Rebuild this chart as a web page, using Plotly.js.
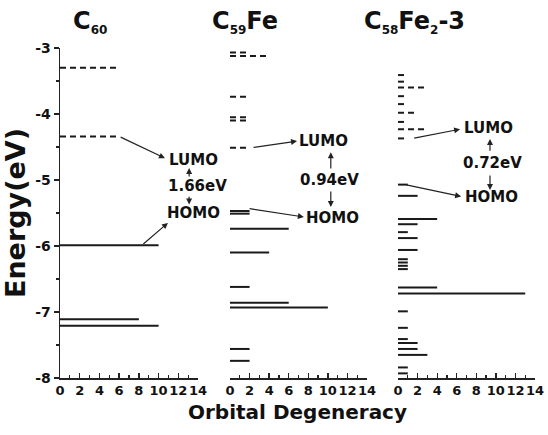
<!DOCTYPE html>
<html><head><meta charset="utf-8">
<script src="https://cdn.plot.ly/plotly-3.0.1.min.js"></script>
<style>body{margin:0;background:#fff}#chart{width:548px;height:435px}</style>
</head><body><div id="chart"></div>
<script>
// ---- data: energy (eV), degeneracy, occupied(1)/unoccupied(0) ----
const c60Energy = [-3.30, -4.34, -5.99, -7.11, -7.21];
const c60Degen  = [6, 6, 10, 8, 10];
const c60Occ    = [0, 0, 1, 1, 1];

const c59FeEnergy = [-3.07, -3.12, -3.74, -4.05, -4.10, -4.51, -5.47, -5.51, -5.74, -6.10, -6.62, -6.86, -6.93, -7.56, -7.74];
const c59FeDegen  = [2, 4, 2, 2, 2, 2, 2, 2, 6, 4, 2, 6, 10, 2, 2];
const c59FeOcc    = [0, 0, 0, 0, 0, 0, 1, 1, 1, 1, 1, 1, 1, 1, 1];

const c58Fe2Energy = [-3.41, -3.51, -3.60, -3.73, -3.85, -3.98, -4.12, -4.23, -4.37,
  -5.07, -5.24, -5.59, -5.67, -5.79, -5.88, -6.06, -6.20, -6.25, -6.30, -6.35,
  -6.63, -6.72, -6.99, -7.24, -7.41, -7.47, -7.56, -7.65, -7.84, -7.93];
const c58Fe2Degen = [1, 1, 3, 1, 1, 2, 1, 3, 1,
  1, 2, 4, 2, 1, 2, 2, 1, 1, 1, 1,
  4, 13, 1, 1, 1, 2, 2, 3, 1, 1];
const c58Fe2Occ = [0,0,0,0,0,0,0,0,0, 1,1,1,1,1,1,1,1,1,1,1, 1,1,1,1,1,1,1,1,1,1];

const panelTitles = ['C<sub><span style="font-size:12px">60</span></sub>',
                     'C<sub><span style="font-size:12px">59</span></sub>Fe',
                     'C<sub><span style="font-size:12px">58</span></sub>Fe<sub><span style="font-size:12px">2</span></sub>-3'];
const gapLabels = ['1.66eV', '0.94eV', '0.72eV'];
const xTickVals = [0, 2, 4, 6, 8, 10, 12, 14];
const yTickVals = [-8, -7, -6, -5, -4, -3];
const yTickText = ['-8', '-7', '-6', '-5', '-4', '-3'];

const FONT = 'DejaVu Sans';
const LINEC = '#1a1a1a';

function segs(E, D, occ, flag) {
  const x = [], y = [];
  for (let i = 0; i < E.length; i++) {
    if (occ[i] !== flag) continue;
    x.push(0, D[i], null);
    y.push(E[i], E[i], null);
  }
  return {x, y};
}

const panels = [
  {E: c60Energy, D: c60Degen, O: c60Occ, xa: 'x'},
  {E: c59FeEnergy, D: c59FeDegen, O: c59FeOcc, xa: 'x2'},
  {E: c58Fe2Energy, D: c58Fe2Degen, O: c58Fe2Occ, xa: 'x3'}
];

const traces = [];
panels.forEach(p => {
  const occ = segs(p.E, p.D, p.O, 1);
  const un = segs(p.E, p.D, p.O, 0);
  traces.push({type: 'scatter', mode: 'lines', x: occ.x, y: occ.y, xaxis: p.xa, yaxis: 'y',
    line: {color: LINEC, width: 2}, hoverinfo: 'skip', showlegend: false, cliponaxis: false});
  traces.push({type: 'scatter', mode: 'lines', x: un.x, y: un.y, xaxis: p.xa, yaxis: 'y',
    line: {color: LINEC, width: 2, dash: '6px,4px'}, hoverinfo: 'skip', showlegend: false, cliponaxis: false});
});

function xaxisDef(domain) {
  return {domain: domain, range: [0, 14], anchor: 'y', showline: true, linecolor: '#222', linewidth: 1.5,
    ticks: 'inside', ticklen: 5, tickwidth: 1.3, tickcolor: '#222', tickvals: xTickVals, tickangle: 0,
    minor: {dtick: 1, ticks: 'inside', ticklen: 3, tickwidth: 1.2, tickcolor: '#222'},
    showgrid: false, zeroline: false, fixedrange: true,
    tickfont: {family: FONT, size: 13, color: '#111', weight: 'bold'}};
}

const lbl = (xref, x, y, text, size) => ({xref: xref, yref: 'y', x: x, y: y, text: text, showarrow: false,
  xanchor: 'center', yanchor: 'middle', font: {family: FONT, size: size || 15, color: '#111', weight: 'bold'}});
const arr = (xref, x, y, ax, ay) => ({xref: xref, yref: 'y', axref: xref, ayref: 'y', x: x, y: y, ax: ax, ay: ay,
  text: '', showarrow: true, arrowhead: 2, arrowsize: 1, arrowwidth: 1.2, arrowcolor: '#222', standoff: 0, startstandoff: 0});

const annotations = [
  // panel titles
  {xref: 'paper', yref: 'paper', x: 0.064, y: 1.08, text: panelTitles[0], showarrow: false, xanchor: 'center', yanchor: 'middle', font: {family: FONT, size: 24, color: '#111', weight: 'bold'}},
  {xref: 'paper', yref: 'paper', x: 0.389, y: 1.08, text: panelTitles[1], showarrow: false, xanchor: 'center', yanchor: 'middle', font: {family: FONT, size: 24, color: '#111', weight: 'bold'}},
  {xref: 'paper', yref: 'paper', x: 0.747, y: 1.08, text: panelTitles[2], showarrow: false, xanchor: 'center', yanchor: 'middle', font: {family: FONT, size: 24, color: '#111', weight: 'bold'}},
  // panel 1
  lbl('x', 13.5, -4.70, 'LUMO'), lbl('x', 13.9, -5.09, gapLabels[0]), lbl('x', 13.5, -5.50, 'HOMO'),
  arr('x', 10.65, -4.67, c60Degen[1], c60Energy[1]),
  arr('x', 13.1, -4.82, 13.1, -4.97), arr('x', 13.1, -5.37, 13.1, -5.23),
  arr('x', 10.95, -5.65, 8.3, c60Energy[2]),
  // panel 2
  lbl('x2', 9.6, -4.41, 'LUMO'), lbl('x2', 10.2, -5.00, gapLabels[1]), lbl('x2', 10.5, -5.58, 'HOMO'),
  arr('x2', 6.85, -4.41, 2.25, c59FeEnergy[5]),
  arr('x2', 10.3, -4.58, 10.3, -4.85), arr('x2', 10.3, -5.41, 10.3, -5.15),
  arr('x2', 7.55, -5.56, 1.85, -5.43),
  // panel 3
  lbl('x3', -1.85, c58Fe2Energy[8], '88', 12), lbl('x3', -1.3, c58Fe2Energy[9], '38', 12),
  lbl('x3', 9.2, -4.21, 'LUMO'), lbl('x3', 9.7, -4.74, gapLabels[2]), lbl('x3', 9.6, -5.26, 'HOMO'),
  arr('x3', 6.35, -4.23, 1.5, c58Fe2Energy[8]),
  arr('x3', 9.4, -4.38, 9.4, -4.58), arr('x3', 9.4, -5.15, 9.4, -4.91),
  arr('x3', 6.45, -5.25, 0.7, c58Fe2Energy[9]),
  // x axis title
  {xref: 'paper', yref: 'paper', x: 0.5, y: -0.103, text: 'Orbital Degeneracy', showarrow: false, xanchor: 'center', yanchor: 'middle', font: {family: FONT, size: 20, color: '#111', weight: 'bold'}}
];

const layout = {
  width: 548, height: 435,
  margin: {l: 60, r: 13, t: 48, b: 57},
  paper_bgcolor: '#fff', plot_bgcolor: '#fff',
  font: {family: FONT, color: '#111'},
  xaxis: xaxisDef([0, 0.2905]),
  xaxis2: xaxisDef([0.3579, 0.6463]),
  xaxis3: xaxisDef([0.7116, 1]),
  yaxis: {domain: [0, 1], range: [-8, -3], anchor: 'x', showline: true, linecolor: '#222', linewidth: 1.5,
    ticks: 'outside', ticklen: 5, tickwidth: 1.3, tickcolor: '#222', tickvals: yTickVals, ticktext: yTickText,
    minor: {dtick: 0.5, ticks: 'outside', ticklen: 3, tickwidth: 1.2, tickcolor: '#222'},
    showgrid: false, zeroline: false, fixedrange: true,
    tickfont: {family: FONT, size: 14, color: '#111', weight: 'bold'},
    title: {text: 'Energy(eV)', standoff: 8, font: {family: FONT, size: 27, color: '#111', weight: 'bold'}}},
  annotations: annotations,
  showlegend: false
};

Plotly.newPlot('chart', traces, layout, {staticPlot: true, displayModeBar: false});
</script></body></html>
